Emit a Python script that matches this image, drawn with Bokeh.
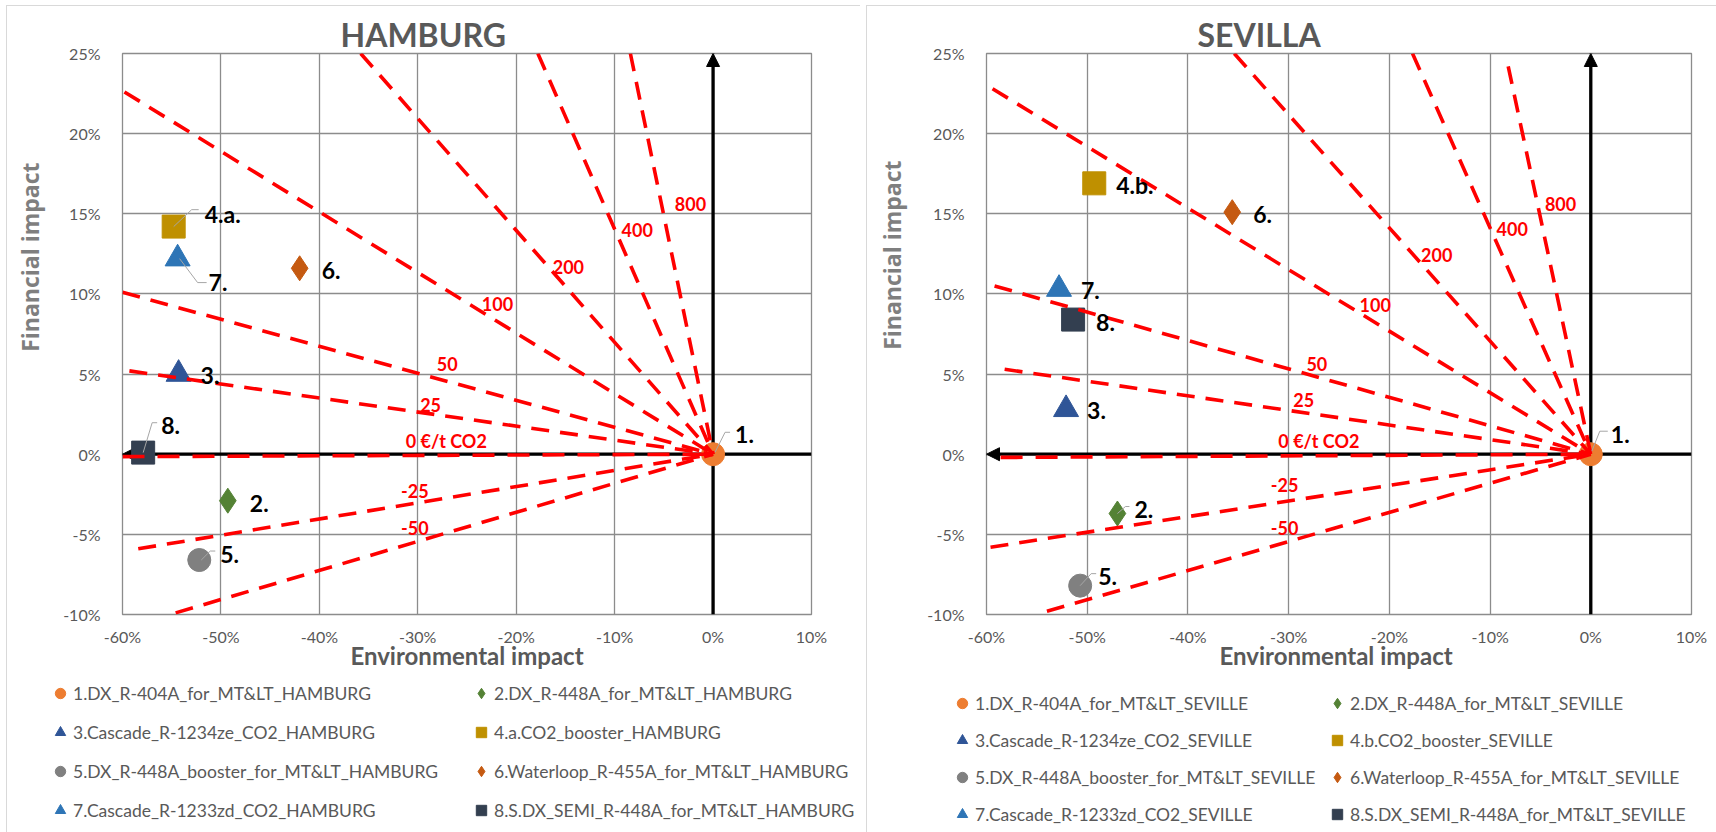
import math

from bokeh.core.properties import value
from bokeh.embed import file_html
from bokeh.layouts import column, row
from bokeh.models import (Arrow, ColumnDataSource, FixedTicker, Legend,
                          LegendItem, NormalHead, PrintfTickFormatter, Range1d,
                          Title)
from bokeh.plotting import figure
from bokeh.resources import INLINE

# ---------------------------------------------------------------- data
x_ticks = [-60, -50, -40, -30, -20, -10, 0, 10]
y_ticks = [-10, -5, 0, 5, 10, 15, 20, 25]

tags_hamburg = ["1.", "2.", "3.", "4.a.", "5.", "6.", "7.", "8."]
tags_sevilla = ["1.", "2.", "3.", "4.b.", "5.", "6.", "7.", "8."]

names_hamburg = [
    "1.DX_R-404A_for_MT&LT_HAMBURG",
    "2.DX_R-448A_for_MT&LT_HAMBURG",
    "3.Cascade_R-1234ze_CO2_HAMBURG",
    "4.a.CO2_booster_HAMBURG",
    "5.DX_R-448A_booster_for_MT&LT_HAMBURG",
    "6.Waterloop_R-455A_for_MT&LT_HAMBURG",
    "7.Cascade_R-1233zd_CO2_HAMBURG",
    "8.S.DX_SEMI_R-448A_for_MT&LT_HAMBURG",
]
names_sevilla = [
    "1.DX_R-404A_for_MT&LT_SEVILLE",
    "2.DX_R-448A_for_MT&LT_SEVILLE",
    "3.Cascade_R-1234ze_CO2_SEVILLE",
    "4.b.CO2_booster_SEVILLE",
    "5.DX_R-448A_booster_for_MT&LT_SEVILLE",
    "6.Waterloop_R-455A_for_MT&LT_SEVILLE",
    "7.Cascade_R-1233zd_CO2_SEVILLE",
    "8.S.DX_SEMI_R-448A_for_MT&LT_SEVILLE",
]

# environmental impact (%) and financial impact (%) per system
env_hamburg = [0.0, -49.3, -54.3, -54.8, -52.2, -42.0, -54.4, -57.9]
fin_hamburg = [0.0, -2.9, 5.0, 14.2, -6.6, 11.6, 12.2, 0.1]
env_sevilla = [0.0, -47.0, -52.1, -49.3, -50.7, -35.6, -52.8, -51.4]
fin_sevilla = [0.0, -3.7, 2.8, 16.9, -8.2, 15.1, 10.3, 8.4]

marker_kinds = ["circle", "diamond", "triangle", "square",
                "circle", "diamond", "triangle", "square"]
marker_colors = ["#ED7D31", "#548235", "#2F5597", "#BF9000",
                 "#808080", "#C55A11", "#2E75B6", "#333F50"]

# CO2 price iso-lines: far end of each line (the other end is the origin)
price_labels = ["800", "400", "200", "100", "50", "25", "0 €/t CO2", "-25", "-50"]
iso_env_hamburg = [-8.4, -17.8, -35.8, -59.8, -60.0, -59.3, -60.0, -58.4, -54.6]
iso_fin_hamburg = [25.0, 25.0, 25.0, 22.6, 10.1, 5.2, -0.15, -5.9, -9.9]
iso_env_sevilla = [-8.2, -17.7, -35.4, -59.4, -59.2, -58.2, -58.6, -59.6, -54.0]
iso_fin_sevilla = [24.2, 25.0, 25.0, 22.8, 10.5, 5.3, -0.2, -5.8, -9.8]

# ---------------------------------------------------------------- layout
X_MIN, X_MAX, Y_MIN, Y_MAX = -60, 10, -10, 25
PLOT_H = 680
LEGEND_H = 152
GRID = "#8c8c8c"
TEXT_GREY = "#595959"
FRAME_LINE = "#d9d9d9"
GLYPH = 26

price_label_pos_hamburg = [(-2.3, 15.6), (-7.7, 14.0), (-14.7, 11.7), (-21.9, 9.4),
                           (-27.0, 5.6), (-28.7, 3.1), (-27.1, 0.8), (-30.3, -2.3),
                           (-30.3, -4.6)]
price_label_pos_sevilla = [(-3.0, 15.6), (-7.8, 14.05), (-15.3, 12.4), (-21.4, 9.3),
                           (-27.2, 5.6), (-28.5, 3.4), (-27.0, 0.8), (-30.4, -1.9),
                           (-30.4, -4.6)]

# data label offsets in pixels (right, down) from the marker
tag_offsets_hamburg = [(22, -20), (22, 3), (22, 1), (31, -13), (21, -6), (22, 2), (31, 24), (18, -27)]
tag_offsets_sevilla = [(20, -20), (17, -4), (21, 1), (22, 2), (18, -9), (21, 2), (22, 1), (23, 3)]

# leader lines in pixels relative to the marker
leaders_hamburg = {
    0: [(17, -22), (12, -22), (2, -2)],
    3: [(25, -17), (18, -17), (0, 0)],
    4: [(16, -9), (11, -9), (2, 0)],
    6: [(29, 24), (20, 24), (2, 0)],
    7: [(14, -30), (9, -30), (0, 0)],
}
leaders_sevilla = {
    0: [(17, -23), (9, -23), (1, -3)],
    1: [(12, -7), (8, -7), (0, 0)],
    4: [(16, -12), (11, -12), (0, 0)],
}

panels = [
    dict(width=860, left=122, right=49, top=51, bottom=614,
         title="HAMBURG", title_offset=218, ylabel_offset=109, ylabel_standoff=26,
         xlabel="Environmental impact",
         tags=tags_hamburg, names=names_hamburg, env=env_hamburg, fin=fin_hamburg,
         iso_env=iso_env_hamburg, iso_fin=iso_fin_hamburg,
         price_pos=price_label_pos_hamburg, offsets=tag_offsets_hamburg,
         leaders=leaders_hamburg, legend_x=(47, 468), legend_top=0, legend_spacing=13),
    dict(width=856, left=126, right=25, top=53, bottom=614,
         title="SEVILLA", title_offset=211, ylabel_offset=107, ylabel_standoff=30,
         xlabel="Environmental  impact",
         tags=tags_sevilla, names=names_sevilla, env=env_sevilla, fin=fin_sevilla,
         iso_env=iso_env_sevilla, iso_fin=iso_fin_sevilla,
         price_pos=price_label_pos_sevilla, offsets=tag_offsets_sevilla,
         leaders=leaders_sevilla, legend_x=(89, 464), legend_top=10, legend_spacing=11),
]


def border_css(top_line):
    layers = [f"linear-gradient({FRAME_LINE}, {FRAME_LINE}) 6px {5 if top_line else 0}px / 1px 100% no-repeat"]
    if top_line:
        layers.append(f"linear-gradient({FRAME_LINE}, {FRAME_LINE}) 6px 5px / 100% 1px no-repeat")
    layers.append("#ffffff")
    return {"background": ", ".join(layers)}


def make_panel(c):
    W = c["width"]
    title = Title(text=c["title"], align="left", offset=c["title_offset"],
                  vertical_align="bottom", standoff=0, text_font="Lato",
                  text_font_style="bold", text_font_size="32px",
                  text_color=TEXT_GREY)
    p = figure(width=W, height=PLOT_H, title=title,
               x_range=Range1d(X_MIN, X_MAX), y_range=Range1d(Y_MIN, Y_MAX),
               output_backend="svg", toolbar_location=None,
               min_border_left=c["left"], min_border_right=c["right"],
               min_border_top=c["top"], min_border_bottom=PLOT_H - c["bottom"],
               styles=border_css(True))
    p.background_fill_color = "white"
    p.border_fill_alpha = 0
    p.outline_line_color = GRID
    p.outline_line_width = 1.3

    kx = (W - c["left"] - c["right"]) / (X_MAX - X_MIN)
    ky = (c["bottom"] - c["top"]) / (Y_MAX - Y_MIN)

    # axes and grid
    p.xaxis.ticker = FixedTicker(ticks=x_ticks)
    p.yaxis.ticker = FixedTicker(ticks=y_ticks)
    for ax in (p.xaxis, p.yaxis):
        ax.formatter = PrintfTickFormatter(format="%d%%")
        ax.axis_line_color = None
        ax.major_tick_line_color = None
        ax.minor_tick_line_color = None
        ax.major_label_text_font = "Lato"
        ax.major_label_text_font_size = "16px"
        ax.major_label_text_color = TEXT_GREY
    p.xaxis.major_label_standoff = 6
    p.yaxis.major_label_standoff = 16
    p.xaxis.axis_label = c["xlabel"]
    p.xaxis.axis_label_text_font = "Lato"
    p.xaxis.axis_label_text_font_style = "bold"
    p.xaxis.axis_label_text_font_size = "24px"
    p.xaxis.axis_label_text_color = TEXT_GREY
    p.xaxis.axis_label_standoff = -8
    for g in (p.xgrid, p.ygrid):
        g.grid_line_color = GRID
        g.grid_line_width = 1.3

    # vertical axis title
    p.add_layout(Title(text="Financial impact", align="right",
                       offset=c["ylabel_offset"], vertical_align="top",
                       standoff=c["ylabel_standoff"], text_font="Open Sans",
                       text_font_style="bold", text_font_size="23px",
                       text_color="#7f7f7f"), "left")

    # thick zero axes with arrow heads
    for xs, ys, xe, ye in ((0, Y_MIN, 0, Y_MAX), (X_MAX, 0, X_MIN, 0)):
        p.add_layout(Arrow(end=NormalHead(size=13, fill_color="black",
                                          line_color="black", line_width=1),
                           x_start=xs, y_start=ys, x_end=xe, y_end=ye,
                           line_color="black", line_width=3.3, level="underlay"))

    # systems
    for i in range(len(c["env"])):
        size = 23 if marker_kinds[i] in ("circle", "square") else 25
        p.scatter(x=[c["env"][i]], y=[c["fin"][i]], marker=marker_kinds[i],
                  size=size, fill_color=marker_colors[i],
                  line_color=marker_colors[i], line_width=1)

    # CO2 price iso-lines
    zero_idx = [i for i, t in enumerate(price_labels) if t.startswith("0 ")]
    other_idx = [i for i in range(len(price_labels)) if i not in zero_idx]
    p.segment(x0=[c["iso_env"][i] for i in other_idx],
              y0=[c["iso_fin"][i] for i in other_idx],
              x1=[0] * len(other_idx), y1=[0] * len(other_idx),
              line_color="#FF0000", line_width=3.6, line_dash="18 11")
    p.segment(x0=[c["iso_env"][i] for i in zero_idx],
              y0=[c["iso_fin"][i] for i in zero_idx],
              x1=[0] * len(zero_idx), y1=[0] * len(zero_idx),
              line_color="#FF0000", line_width=3.6, line_dash="22 13")
    p.text(x=[q[0] for q in c["price_pos"]], y=[q[1] for q in c["price_pos"]],
           text=price_labels, text_color="#FF0000", text_font=value("Lato"),
           text_font_style="bold", text_font_size="18px",
           text_align="center", text_baseline="middle")

    # leader lines
    lx, ly = [], []
    for i, pts in c["leaders"].items():
        lx.append([c["env"][i] + dx / kx for dx, dy in pts])
        ly.append([c["fin"][i] - dy / ky for dx, dy in pts])
    p.multi_line(xs=lx, ys=ly, line_color="#a6a6a6", line_width=1)

    # data labels
    src = ColumnDataSource(dict(x=c["env"], y=c["fin"], text=c["tags"],
                                dx=[o[0] for o in c["offsets"]],
                                dy=[o[1] for o in c["offsets"]]))
    p.text(x="x", y="y", text="text", x_offset="dx", y_offset="dy", source=src,
           text_color="black", text_font=value("Lato"), text_font_style="bold",
           text_font_size="23px", text_align="left", text_baseline="middle")

    # legend strip underneath: two columns of four entries
    lg = figure(width=W, height=LEGEND_H, x_range=Range1d(0, 1), y_range=Range1d(0, 1),
                x_axis_type=None, y_axis_type=None, output_backend="svg",
                toolbar_location=None, min_border=0, styles=border_css(False))
    lg.grid.visible = False
    lg.outline_line_color = None
    lg.background_fill_alpha = 0
    lg.border_fill_alpha = 0
    swatches = []
    for i in range(len(c["env"])):
        swatches.append(lg.scatter(x=[float("nan")], y=[float("nan")],
                                   marker=marker_kinds[i],
                                   fill_color=marker_colors[i],
                                   line_color=marker_colors[i]))
    n_rows = (len(swatches) + 1) // 2
    leg_h = n_rows * GLYPH + (n_rows - 1) * c["legend_spacing"]
    for col, lxp in enumerate(c["legend_x"]):
        items = [LegendItem(label=c["names"][i], renderers=[swatches[i]])
                 for i in range(col, len(swatches), 2)]
        leg = Legend(items=items, location=(lxp, LEGEND_H - c["legend_top"] - leg_h),
                     orientation="vertical", glyph_width=GLYPH, glyph_height=GLYPH,
                     label_height=GLYPH, spacing=c["legend_spacing"], padding=0,
                     margin=0, label_standoff=0, border_line_color=None,
                     background_fill_alpha=0, label_text_font="Lato",
                     label_text_font_size="17.5px", label_text_color=TEXT_GREY)
        lg.add_layout(leg)
    return p, lg


built = [make_panel(c) for c in panels]
layout = column(row(*[b[0] for b in built], spacing=0),
                row(*[b[1] for b in built], spacing=0), spacing=0)
open("out.html", "w").write(file_html(layout, INLINE))
